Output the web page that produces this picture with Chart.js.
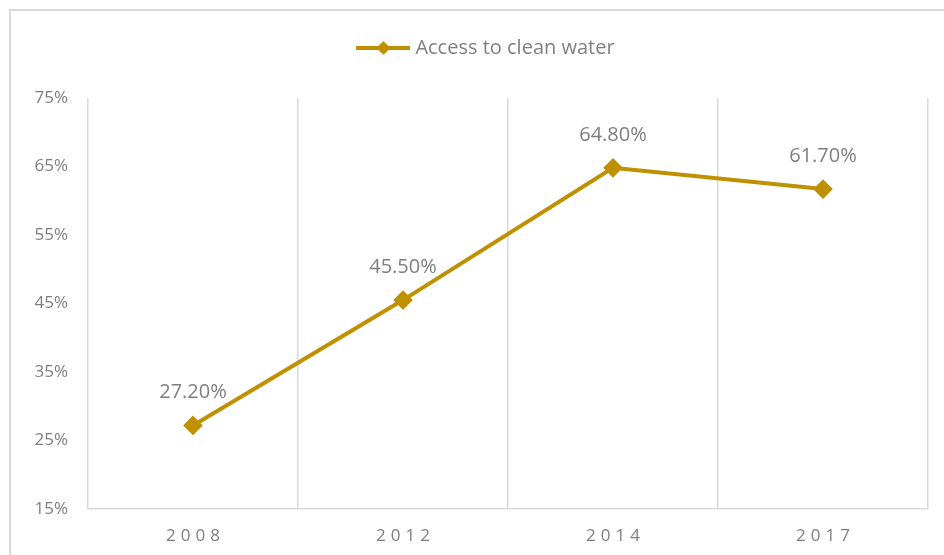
<!DOCTYPE html>
<html>
<head>
<meta charset="utf-8">
<script src="https://cdn.jsdelivr.net/npm/chart.js@4.4.1/dist/chart.umd.min.js"></script>
<style>
  html, body { margin: 0; padding: 0; background: #ffffff; }
  #wrap { width: 944px; height: 555px; position: relative; }
</style>
</head>
<body>
<div id="wrap"><canvas id="chart" width="944" height="555"></canvas></div>
<script>
// Survey years and share of households with access to clean water (%)
const years = ['2008', '2012', '2014', '2017'];
const accessValues = [27.2, 45.5, 64.8, 61.7];
const seriesName = 'Access to clean water';
const yTicks = [15, 25, 35, 45, 55, 65, 75];

const GOLD = '#bf9000';
const TEXT = '#7f7f7f';
const GRID = '#d9d9d9';
const FONT = "'Open Sans', 'Liberation Sans', sans-serif";

// Legend swatch: short line with a diamond in the middle
const swatch = document.createElement('canvas');
swatch.width = 54; swatch.height = 18;
(function () {
  const c = swatch.getContext('2d');
  c.strokeStyle = GOLD; c.lineWidth = 4;
  c.beginPath(); c.moveTo(0, 9); c.lineTo(54, 9); c.stroke();
  c.fillStyle = GOLD;
  c.beginPath(); c.moveTo(27, 2); c.lineTo(34, 9); c.lineTo(27, 16); c.lineTo(20, 9); c.closePath(); c.fill();
})();

// Light frame around the whole chart
const framePlugin = {
  id: 'frame',
  beforeDraw(chart) {
    const ctx = chart.ctx;
    ctx.save();
    ctx.strokeStyle = GRID;
    ctx.lineWidth = 2;
    ctx.strokeRect(10, 10, chart.width + 20, chart.height + 20);
    ctx.restore();
  }
};

// Extra gap between the legend and the plot area, legend nudged right
const legendGap = {
  id: 'legendGap',
  beforeLayout(chart) {
    const lg = chart.legend;
    if (lg && !lg.__gap) {
      const fit = lg.fit.bind(lg);
      lg.fit = function () { fit(); this.height += 30; };
      lg.__gap = true;
    }
  },
  afterLayout(chart) {
    const lg = chart.legend;
    if (lg) { lg.left += 14; lg.right += 14; }
  }
};

// Spaced-out year labels on the category axis
const spacedLabels = {
  id: 'spacedLabels',
  beforeDraw(chart) {
    const s = chart.scales.x;
    if (s && !s.__spaced) {
      const orig = s.drawLabels.bind(s);
      s.drawLabels = function (area) {
        const ctx = chart.ctx;
        ctx.save();
        ctx.letterSpacing = '5px';
        orig(area);
        ctx.restore();
      };
      s.__spaced = true;
    }
  }
};

// Value labels above each point
const valueLabels = {
  id: 'valueLabels',
  afterDatasetsDraw(chart) {
    const ctx = chart.ctx;
    const meta = chart.getDatasetMeta(0);
    const data = chart.data.datasets[0].data;
    ctx.save();
    ctx.font = '20px ' + FONT;
    ctx.fillStyle = TEXT;
    ctx.textAlign = 'center';
    ctx.textBaseline = 'middle';
    meta.data.forEach((pt, i) => {
      ctx.fillText(data[i].toFixed(2) + '%', pt.x, pt.y - 33);
    });
    ctx.restore();
  }
};

new Chart(document.getElementById('chart'), {
  type: 'line',
  data: {
    labels: years,
    datasets: [{
      label: seriesName,
      data: accessValues,
      borderColor: GOLD,
      backgroundColor: GOLD,
      borderWidth: 4,
      pointStyle: 'rectRot',
      pointRadius: 7,
      pointHoverRadius: 7,
      pointBackgroundColor: GOLD,
      pointBorderColor: GOLD,
      tension: 0,
      fill: false
    }]
  },
  options: {
    responsive: false,
    animation: false,
    events: [],
    layout: { padding: { left: 20, right: 16, top: 16, bottom: 10 } },
    plugins: {
      tooltip: { enabled: false },
      legend: {
        position: 'top',
        align: 'center',
        labels: {
          usePointStyle: true,
          pointStyleWidth: 44,
          padding: 22,
          color: TEXT,
          font: { family: FONT, size: 20 },
          generateLabels(chart) {
            return [{
              text: seriesName,
              pointStyle: swatch,
              fillStyle: GOLD,
              strokeStyle: GOLD,
              lineWidth: 0,
              fontColor: TEXT,
              datasetIndex: 0
            }];
          }
        }
      }
    },
    scales: {
      x: {
        type: 'category',
        offset: true,
        grid: {
          display: true,
          offset: true,
          color: GRID,
          lineWidth: 1.5,
          drawTicks: false
        },
        border: { display: true, color: GRID, width: 1.5 },
        ticks: {
          color: TEXT,
          font: { family: FONT, size: 17 },
          padding: 17,
          labelOffset: 2.5
        },
        afterFit(scale) { scale.height = 36; }
      },
      y: {
        min: 15,
        max: 75,
        afterBuildTicks(scale) { scale.ticks = yTicks.map(v => ({ value: v })); },
        grid: { display: false, drawTicks: false },
        border: { display: false },
        ticks: {
          color: TEXT,
          font: { family: FONT, size: 17 },
          padding: 20,
          callback: v => v + '%'
        },
        afterFit(scale) { scale.width = 68; }
      }
    }
  },
  plugins: [framePlugin, legendGap, spacedLabels, valueLabels]
});
</script>
</body>
</html>
